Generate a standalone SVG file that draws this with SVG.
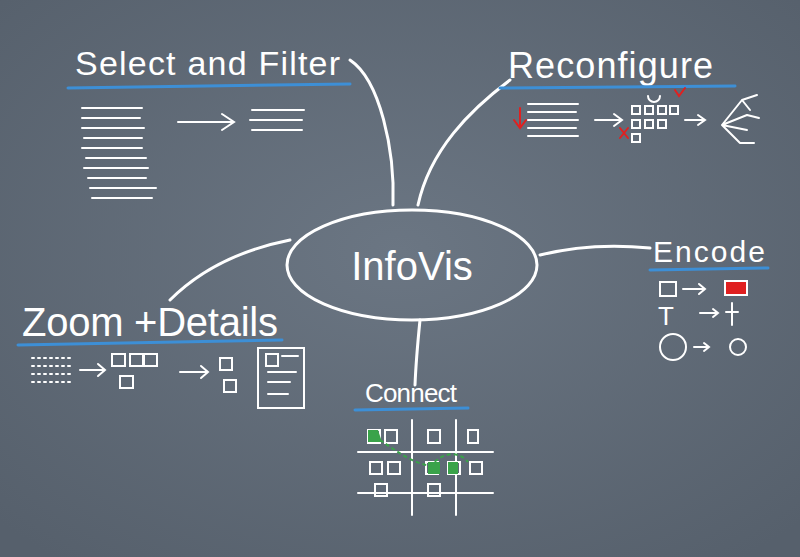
<svg xmlns="http://www.w3.org/2000/svg" width="800" height="557" viewBox="0 0 800 557">
<defs>
<radialGradient id="bg" cx="50%" cy="45%" r="70%"><stop offset="0" stop-color="#6b7683"/><stop offset="1" stop-color="#56606c"/></radialGradient>
</defs>
<style>
.c{fill:none;stroke:#fff;stroke-width:3;stroke-linecap:round;stroke-linejoin:round}
.t{fill:none;stroke:#fff;stroke-width:2;stroke-linecap:round}
.u{fill:none;stroke:#3d8fd6;stroke-width:3;stroke-linecap:round}
.r{fill:none;stroke:#e02020;stroke-width:2;stroke-linecap:round}
.lbl{fill:#fff;font-family:"Liberation Sans",sans-serif}
</style>
<rect width="800" height="557" fill="url(#bg)"/>
<g id="connectors">
<path class="c" d="M350 60 C380 80 395 150 393 205"/>
<path class="c" d="M510 80 C470 110 430 150 418 205"/>
<path class="c" d="M290 240 C240 250 200 270 170 300"/>
<path class="c" d="M540 255 C580 245 620 245 650 248"/>
<path class="c" d="M420 320 C418 340 416 360 415 385"/>
</g>
<g id="infovis">
<ellipse class="c" cx="412" cy="265" rx="125" ry="55"/>
<text class="lbl" x="412" y="280" font-size="40" text-anchor="middle">InfoVis</text>
</g>
<g id="select">
<text class="lbl" x="75" y="75" font-size="34" textLength="265">Select and  Filter</text>
<path class="u" d="M68 88 L350 84"/>
<path class="t" d="M82 108h60M82 118h58M82 128h62M84 138h58M82 148h60M86 158h60M84 168h64M88 178h58M90 188h66M92 198h60"/>
<path class="t" d="M178 122h55M222 114l12 8-12 8M252 110h52M250 120h52M252 130h50"/>
</g>
<g id="reconfigure">
<text class="lbl" x="508" y="78" font-size="36" textLength="205">Reconfigure</text>
<path class="u" d="M500 88 L735 86"/>
<path class="r" d="M520 108v20M514 120l6 8 6-8M620 128l8 10M628 128l-8 10M675 90l4 6 6-8"/>
<path class="t" d="M528 104h50M528 112h48M528 120h50M528 128h48M528 136h50"/>
<path class="t" d="M595 120h25M614 114l8 6-8 6"/>
<path class="t" d="M632 106h8v8h-8zM645 106h8v8h-8zM658 106h8v8h-8zM670 106h8v8h-8zM632 120h8v8h-8zM645 120h8v8h-8zM658 120h8v8h-8zM632 134h8v8h-8zM648 96a6 6 0 1 0 12 0"/>
<path class="t" d="M685 120h20M698 115l7 5-7 5"/>
<path class="t" d="M722 125l20-25M722 125l25-10M722 125l25 5M722 125l18 18M742 100l15-5M742 100l8 10M747 115l12 3M740 143l14 0"/>
</g>
<g id="encode">
<text class="lbl" x="653" y="262" font-size="30" textLength="112">Encode</text>
<path class="u" d="M650 270 L768 268"/>
<path class="t" d="M660 282h16v14h-16zM683 289h22M699 284l6 5-6 5"/>
<path fill="#e02020" stroke="#fff" stroke-width="2" d="M725 281h22v14h-22z"/>
<text class="lbl" x="658" y="325" font-size="26">T</text>
<path class="t" d="M700 313h18M713 309l5 4-5 4M732 303v22M726 312h12"/>
<circle class="t" cx="673" cy="347" r="13"/>
<path class="t" d="M694 347h15M704 343l5 4-5 4"/>
<circle class="t" cx="738" cy="347" r="8"/>
</g>
<g id="zoom">
<text class="lbl" x="22" y="336" font-size="40" textLength="256">Zoom +Details</text>
<path class="u" d="M18 345 L282 340"/>
<path class="t" stroke-dasharray="2 4" d="M32 358h38M32 366h38M32 374h38M32 382h38"/>
<path class="t" d="M80 370h25M98 364l7 6-7 6"/>
<path class="t" d="M112 354h13v12h-13zM130 354h13v12h-13zM144 354h13v12h-13zM120 376h13v12h-13z"/>
<path class="t" d="M180 372h28M201 366l7 6-7 6"/>
<path class="t" d="M220 358h12v12h-12zM224 380h12v12h-12zM258 348h46v60h-46zM266 354h12v12h-12zM282 356h16M268 372h28M268 382h22M268 394h20"/>
</g>
<g id="connect">
<text class="lbl" x="365" y="402" font-size="26" textLength="92">Connect</text>
<path class="u" d="M355 410 L468 408"/>
<path class="t" d="M412 420v95M456 420v95M358 452h135M358 493h135"/>
<path class="t" d="M368 430h12v13h-12zM385 430h12v13h-12zM428 430h12v13h-12zM468 430h10v13h-10zM370 462h12v12h-12zM388 462h12v12h-12zM426 462h12v12h-12zM448 462h12v12h-12zM470 462h12v12h-12zM375 484h12v12h-12zM428 484h12v12h-12z"/>
<path fill="#3aa34a" d="M368 430h10l4 12h-14z M428 462h12v12h-12z M448 462h10v12h-10z"/>
<path fill="none" stroke="#3aa34a" stroke-width="2" stroke-dasharray="4 3" d="M380 440 C395 450 410 462 430 466 C445 450 460 452 468 462"/>
</g>
</svg>
